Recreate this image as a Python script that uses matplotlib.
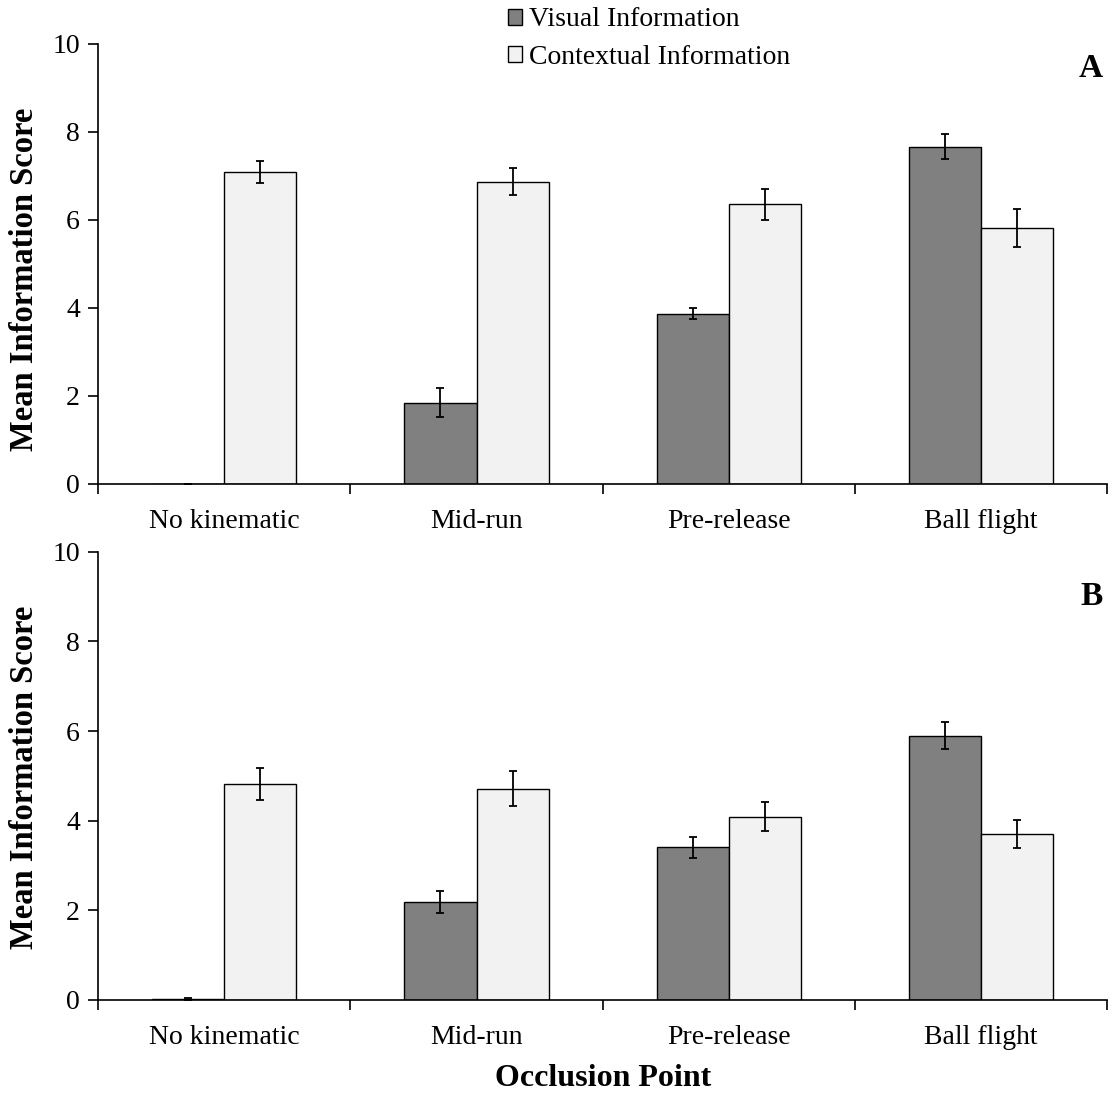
import numpy as np
import matplotlib.pyplot as plt
from matplotlib.patches import Patch

plt.rcParams['font.family'] = ['Liberation Serif', 'DejaVu Serif']

# Data
categories = ["No kinematic", "Mid-run", "Pre-release", "Ball flight"]

visual_a = [0.0, 1.85, 3.87, 7.66]
visual_a_err = [0.0, 0.33, 0.13, 0.28]
context_a = [7.09, 6.87, 6.35, 5.82]
context_a_err = [0.25, 0.30, 0.36, 0.43]

visual_b = [0.02, 2.18, 3.40, 5.90]
visual_b_err = [0.02, 0.25, 0.23, 0.31]
context_b = [4.82, 4.71, 4.09, 3.70]
context_b_err = [0.35, 0.39, 0.33, 0.32]

dark = "#808080"
light = "#f2f2f2"

fig = plt.figure(figsize=(11.13, 10.95), dpi=100)
ax_a = fig.add_axes([0.088, 0.558, 0.907, 0.402])
ax_b = fig.add_axes([0.088, 0.087, 0.907, 0.409])

x = np.arange(len(categories))
w = 0.286


def draw_panel(ax, vis, vis_err, ctx, ctx_err, letter, letter_y, label_y):
    ax.bar(x - w / 2, vis, w, color=dark, edgecolor="black", linewidth=1.0,
           yerr=vis_err, capsize=3, error_kw=dict(elinewidth=1.3, capthick=1.3), zorder=2)
    ax.bar(x + w / 2, ctx, w, color=light, edgecolor="black", linewidth=1.0,
           yerr=ctx_err, capsize=3, error_kw=dict(elinewidth=1.3, capthick=1.3), zorder=2)
    ax.set_xlim(-0.5, len(categories) - 0.5)
    ax.set_ylim(0, 10)
    ax.set_yticks(range(0, 11, 2))
    ax.set_xticks(x)
    ax.set_xticklabels(categories)
    ax.set_xticks(np.arange(-0.5, len(categories)), minor=True)
    ax.tick_params(axis="x", which="major", length=0, pad=18, labelsize=20)
    ax.tick_params(axis="x", which="minor", length=7, width=1.2, direction="out")
    ax.tick_params(axis="y", length=7, width=1.2, direction="out", labelsize=20, pad=6)
    ax.spines["top"].set_visible(False)
    ax.spines["right"].set_visible(False)
    ax.spines["left"].set_linewidth(1.2)
    ax.spines["bottom"].set_linewidth(1.2)
    ax.set_ylabel("Mean Information Score", fontsize=23.5, fontweight="bold",
                  labelpad=9, y=label_y)
    ax.text(0.995, letter_y, letter, transform=ax.transAxes, ha="right", va="center",
            fontsize=24, fontweight="bold")


draw_panel(ax_a, visual_a, visual_a_err, context_a, context_a_err, "A", 0.945, 0.464)
draw_panel(ax_b, visual_b, visual_b_err, context_b, context_b_err, "B", 0.90, 0.497)
ax_b.set_xlabel("Occlusion Point", fontsize=23, fontweight="bold", labelpad=10)

handles = [Patch(facecolor=dark, edgecolor="black", label="Visual Information"),
           Patch(facecolor=light, edgecolor="black", label="Contextual Information")]
fig.legend(handles=handles, loc="upper left", bbox_to_anchor=(0.434, 1.016), frameon=False,
           fontsize=20, handlelength=0.5, handleheight=0.5, handletextpad=0.25,
           labelspacing=0.45)

fig.savefig("out.png", dpi=100)
